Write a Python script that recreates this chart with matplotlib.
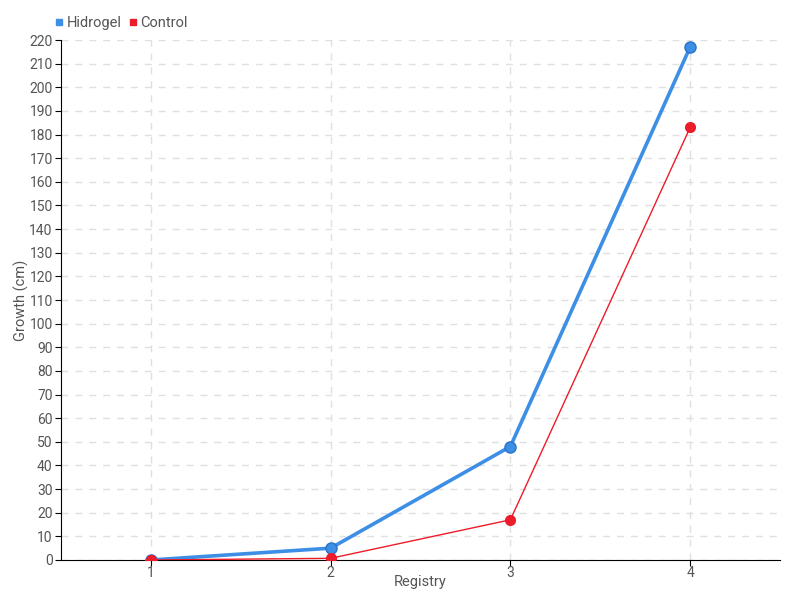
import matplotlib.pyplot as plt
from matplotlib.lines import Line2D

registry = [1, 2, 3, 4]
hidrogel = [0, 5, 48, 217]
control = [0, 0.7, 17, 183]

blue = "#3d8fe6"
red = "#ec1c2a"
plt.rcParams["font.family"] = ["Roboto", "DejaVu Sans"]

fig = plt.figure(figsize=(8, 6), dpi=100)
ax = fig.add_axes([0.07625, 0.0667, 0.89875, 0.8666])

ax.plot(registry, hidrogel, color=blue, lw=2.6, marker="o", ms=8,
        markerfacecolor=blue, markeredgecolor="#2a72c8", markeredgewidth=1, zorder=3)
ax.plot(registry, control, color=red, lw=1, marker="o", ms=7,
        markerfacecolor=red, markeredgecolor=red, zorder=4)

ax.set_xlim(0.5, 4.5)
ax.set_ylim(0, 220)
ax.set_xticks(registry)
ax.set_yticks(range(0, 221, 10))
ax.grid(True, color="#e0e0e0", linestyle=(0, (5, 5)), lw=1)
ax.set_axisbelow(True)

for s in ["top", "right"]:
    ax.spines[s].set_visible(False)
for s in ["left", "bottom"]:
    ax.spines[s].set_color("black")
ax.tick_params(colors="#555555", labelsize=10, length=4, pad=2)
ax.tick_params(axis="x", pad=0)
ax.tick_params(axis="both", which="both", color="black")

ax.set_xlabel("Registry", color="#555555", fontsize=10.5, labelpad=-3)
ax.set_ylabel("Growth (cm)", color="#555555", fontsize=10.5)
ax.yaxis.set_label_coords(-0.045, 0.5)

handles = [
    Line2D([], [], marker="s", color="none", markerfacecolor=blue, markeredgecolor=blue, ms=5),
    Line2D([], [], marker="s", color="none", markerfacecolor=red, markeredgecolor=red, ms=5),
]
fig.legend(handles, ["Hidrogel", "Control"], loc="upper left", bbox_to_anchor=(0.052, 0.995),
           ncol=2, frameon=False, handlelength=0.6, handletextpad=0.2, columnspacing=0.5,
           fontsize=10.5, labelcolor="#555555")

fig.savefig("out.png", dpi=100)
